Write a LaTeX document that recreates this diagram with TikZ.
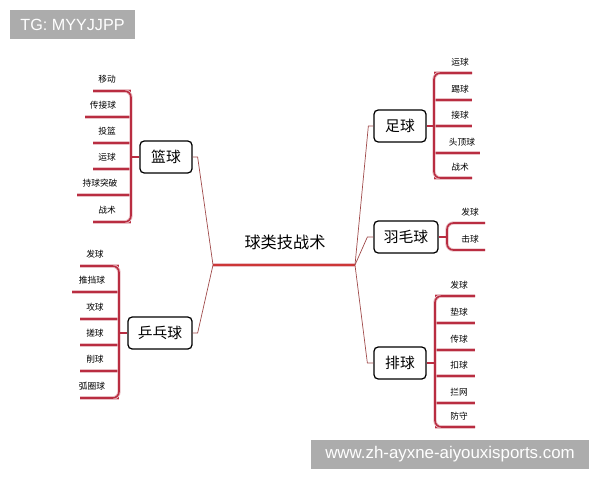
\documentclass[tikz,border=0pt]{standalone}
\usepackage{fontspec}
\setmainfont{Noto Sans CJK SC}
\newfontfamily\wmfont{Liberation Sans}
\definecolor{leafred}{RGB}{185,45,65}
\definecolor{linkred}{RGB}{160,75,75}
\definecolor{barred}{RGB}{205,55,55}
\tikzstyle{topic}=[draw=black,line width=0.9pt,rounded corners=3pt,fill=white,minimum width=1.3cm,minimum height=0.8cm,inner sep=0,font=\fontsize{10.5}{12}\selectfont]
\tikzstyle{title}=[inner sep=0,font=\fontsize{11.5}{13}\selectfont]
\tikzstyle{tip}=[inner sep=1pt,font=\fontsize{6.2}{7}\selectfont]
\tikzstyle{halo}=[leafred!30,line width=2.4pt,rounded corners=4.5pt]
\tikzstyle{leaf}=[leafred,line width=1.1pt,rounded corners=4.5pt]
\tikzstyle{link}=[linkred,line width=0.5pt]
\tikzstyle{bar}=[barred,line width=1.8pt]
\tikzstyle{wmbox}=[fill=gray!65,text=white,minimum height=0.725cm,inner sep=0,font=\wmfont\fontsize{11.5}{13}\selectfont]

\begin{document}
\begin{tikzpicture}[x=0.025cm,y=-0.025cm]
\useasboundingbox (0,0) rectangle (600,480);

% centre
\node[title] (title) at (285,242) {球类技战术};
\coordinate (hubL) at (213,265);
\coordinate (hubR) at (355,265);
\draw[halo,line width=3.2pt] (hubL)--(hubR);
\draw[bar] (hubL)--(hubR);

\node[topic] (lanqiu) at (166,157) {篮球};
\node[topic,minimum width=1.6cm] (pingpang) at (160,333) {乒乓球};
\node[topic] (zuqiu) at (400,126) {足球};
\node[topic,minimum width=1.6cm] (yumao) at (406,237) {羽毛球};
\node[topic] (paiqiu) at (400,363) {排球};

\draw[link] (lanqiu.east) -- ++(5,0) -- (hubL);
\draw[link] (pingpang.east) -- ++(5,0) -- (hubL);
\draw[link] (zuqiu.west) -- ++(-5,0) -- (hubR);
\draw[link] (yumao.west) -- ++(-6,0) -- (hubR);
\draw[link] (paiqiu.west) -- ++(-6,0) -- (hubR);

% basketball
\coordinate (lanqiu-br) at (131,157);
\foreach \i/\y/\l/\tx/\t in {1/91/93/107/移动,2/117/85/103/传接球,3/143/93/107/投篮,4/169/93/107/运球,5/195/77/100/持球突破,6/222/93/107/战术}{
  \coordinate (lanqiu-a\i) at (\l,\y);
  \coordinate (lanqiu-b\i) at (131,\y);
  \node[tip] (lanqiu-t\i) at (\tx,\y-12) {\t};
  \draw[halo] (lanqiu-a\i) -- (lanqiu-b\i);
  \draw[leaf] (lanqiu-a\i) -- (lanqiu-b\i);
}
\draw[halo] (lanqiu-a1) -- (lanqiu-b1) -- (lanqiu-b6) -- (lanqiu-a6);
\draw[leaf] (lanqiu-a1) -- (lanqiu-b1) -- (lanqiu-b6) -- (lanqiu-a6);
\draw[leaf] (lanqiu.west) -- (lanqiu-br);

% table tennis
\coordinate (pingpang-br) at (119,333);
\foreach \i/\y/\l/\tx/\t in {1/266/80/95/发球,2/292/72/92/推挡球,3/319/80/95/攻球,4/345/80/95/搓球,5/371/80/95/削球,6/398/80/92/弧圈球}{
  \coordinate (pingpang-a\i) at (\l,\y);
  \coordinate (pingpang-b\i) at (119,\y);
  \node[tip] (pingpang-t\i) at (\tx,\y-12) {\t};
  \draw[halo] (pingpang-a\i) -- (pingpang-b\i);
  \draw[leaf] (pingpang-a\i) -- (pingpang-b\i);
}
\draw[halo] (pingpang-a1) -- (pingpang-b1) -- (pingpang-b6) -- (pingpang-a6);
\draw[leaf] (pingpang-a1) -- (pingpang-b1) -- (pingpang-b6) -- (pingpang-a6);
\draw[leaf] (pingpang.west) -- (pingpang-br);

% football
\coordinate (zuqiu-br) at (434,126);
\foreach \i/\y/\r/\tx/\t in {1/73/472/460/运球,2/100/472/460/踢球,3/126/472/460/接球,4/153/480/462/头顶球,5/178/472/460/战术}{
  \coordinate (zuqiu-a\i) at (\r,\y);
  \coordinate (zuqiu-b\i) at (434,\y);
  \node[tip] (zuqiu-t\i) at (\tx,\y-11) {\t};
  \draw[halo] (zuqiu-b\i) -- (zuqiu-a\i);
  \draw[leaf] (zuqiu-b\i) -- (zuqiu-a\i);
}
\draw[halo] (zuqiu-a1) -- (zuqiu-b1) -- (zuqiu-b5) -- (zuqiu-a5);
\draw[leaf] (zuqiu-a1) -- (zuqiu-b1) -- (zuqiu-b5) -- (zuqiu-a5);
\draw[leaf] (zuqiu.east) -- (zuqiu-br);

% badminton
\coordinate (yumao-br) at (447,237);
\foreach \i/\y/\t in {1/223/发球,2/250/击球}{
  \coordinate (yumao-a\i) at (485,\y);
  \coordinate (yumao-b\i) at (447,\y);
  \node[tip] (yumao-t\i) at (470,\y-11) {\t};
}
\draw[halo] (yumao-a1) -- (yumao-b1) -- (yumao-b2) -- (yumao-a2);
\draw[leaf] (yumao-a1) -- (yumao-b1) -- (yumao-b2) -- (yumao-a2);
\draw[leaf] (yumao.east) -- (yumao-br);

% volleyball
\coordinate (paiqiu-br) at (435,363);
\foreach \i/\y/\t in {1/296/发球,2/323/垫球,3/350/传球,4/376/扣球,5/403/拦网,6/427/防守}{
  \coordinate (paiqiu-a\i) at (475,\y);
  \coordinate (paiqiu-b\i) at (435,\y);
  \node[tip] (paiqiu-t\i) at (459,\y-11) {\t};
  \draw[halo] (paiqiu-b\i) -- (paiqiu-a\i);
  \draw[leaf] (paiqiu-b\i) -- (paiqiu-a\i);
}
\draw[halo] (paiqiu-a1) -- (paiqiu-b1) -- (paiqiu-b6) -- (paiqiu-a6);
\draw[leaf] (paiqiu-a1) -- (paiqiu-b1) -- (paiqiu-b6) -- (paiqiu-a6);
\draw[leaf] (paiqiu.east) -- (paiqiu-br);

% watermarks
\node[wmbox,minimum width=3.125cm] (tg) at (72.5,24.5) {TG: MYYJJPP};
\node[wmbox,minimum width=6.95cm,font=\wmfont\fontsize{12}{14}\selectfont] (site) at (450,454.5) {www.zh-ayxne-aiyouxisports.com};
\end{tikzpicture}
\end{document}
